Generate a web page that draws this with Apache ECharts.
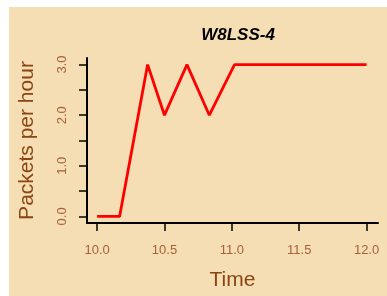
<!DOCTYPE html>
<html style="height: 100%">
    <head>
        <meta charset="utf-8">
    </head>
    <body style="height: 100%; margin: 0; background: #ffffff; overflow: hidden">
        <div id="container" style="width: 100%; height: 100%"></div>

        <script type="text/javascript" src="https://cdn.jsdelivr.net/npm/echarts@6/dist/echarts.min.js"></script>
        <script type="text/javascript">
var timeValues = [10.0, 10.167, 10.375, 10.5, 10.667, 10.833, 11.02, 12.0];
var packetValues = [0, 0, 3, 2, 3, 2, 3, 3];
var xTickValues = [10.0, 10.5, 11.0, 11.5, 12.0];
var yTickValues = [0, 0.5, 1, 1.5, 2, 2.5, 3];
var yLabelValues = [0, 1, 2, 3];

var dom = document.getElementById("container");
var myChart = echarts.init(dom);

var font = "'Liberation Sans', Arial, sans-serif";
var tickColor = '#A8603A';
var titleColor = '#8B4513';

var W = myChart.getWidth();
var H = myChart.getHeight();

var lineData = [];
for (var i = 0; i < timeValues.length; i++) {
    lineData.push([timeValues[i], packetValues[i]]);
}

var option = {
    backgroundColor: '#ffffff',
    animation: false,
    graphic: [{
        // beige panel, white strip on the top and left
        type: 'rect',
        left: 9,
        top: 7,
        z: -10,
        shape: { width: W, height: H },
        style: { fill: '#F5DEB3' },
        silent: true
    }],
    title: {
        text: 'W8LSS-4',
        left: 233,
        top: 22,
        textAlign: 'center',
        textStyle: {
            fontFamily: font,
            fontSize: 17,
            fontWeight: 'bold',
            fontStyle: 'italic',
            color: '#000'
        }
    },
    grid: {
        left: 87,
        right: W - 378,
        top: 58,
        bottom: H - 227
    },
    xAxis: {
        type: 'value',
        min: 9.925,
        max: 12.085,
        name: 'Time',
        nameLocation: 'middle',
        nameGap: 47,
        nameTextStyle: {
            fontFamily: font,
            fontSize: 21,
            color: titleColor
        },
        axisLine: {
            onZero: false,
            lineStyle: { color: '#000', width: 2 }
        },
        axisTick: {
            customValues: xTickValues,
            length: 8,
            lineStyle: { color: '#000', width: 1.5 }
        },
        axisLabel: {
            customValues: xTickValues,
            margin: 21,
            fontFamily: font,
            fontSize: 13,
            color: tickColor,
            formatter: function (v) { return v.toFixed(1); }
        },
        splitLine: { show: false }
    },
    yAxis: {
        type: 'value',
        min: -0.13,
        max: 3.13,
        name: 'Packets per hour',
        nameLocation: 'middle',
        nameGap: 49,
        nameTextStyle: {
            fontFamily: font,
            fontSize: 21,
            color: titleColor
        },
        axisLine: {
            onZero: false,
            lineStyle: { color: '#000', width: 2 }
        },
        axisTick: {
            customValues: yTickValues,
            length: 8,
            lineStyle: { color: '#000', width: 1.5 }
        },
        axisLabel: {
            customValues: yLabelValues,
            rotate: 90,
            margin: 18,
            fontFamily: font,
            fontSize: 13,
            color: tickColor,
            formatter: function (v) { return v.toFixed(1); }
        },
        splitLine: { show: false }
    },
    series: [{
        type: 'line',
        data: lineData,
        showSymbol: false,
        lineStyle: { color: '#FF0000', width: 2.8 }
    }]
};

myChart.setOption(option);
        </script>
    </body>
</html>
